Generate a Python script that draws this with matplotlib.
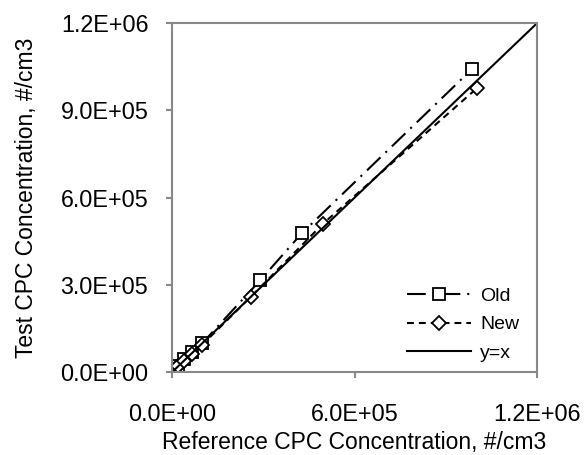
import matplotlib
matplotlib.use("Agg")
import matplotlib.pyplot as plt
from matplotlib.ticker import FormatStrFormatter

plt.rcParams['font.family'] = ['Liberation Sans', 'DejaVu Sans']

# Old instrument
ref_old = [1.0e4, 2.0e4, 4.0e4, 6.5e4, 1.0e5, 2.9e5, 4.27e5, 9.86e5]
test_old = [1.0e4, 2.2e4, 4.5e4, 6.8e4, 1.0e5, 3.16e5, 4.78e5, 1.042e6]

# New instrument
ref_new = [1.0e4, 2.0e4, 4.0e4, 6.5e4, 1.0e5, 2.6e5, 4.96e5, 1.003e6]
test_new = [1.0e4, 2.0e4, 4.0e4, 6.3e4, 9.5e4, 2.6e5, 5.1e5, 9.77e5]

one_to_one = [0, 1.2e6]
ticks_x = [0, 6.0e5, 1.2e6]
ticks_y = [0, 3.0e5, 6.0e5, 9.0e5, 1.2e6]

fig = plt.figure(figsize=(5.85, 4.55), dpi=100)
ax = fig.add_axes([0.294, 0.182, 0.624, 0.767])

ax.plot(ref_old, test_old, color='black', lw=1.5, dashes=[9, 3.3, 1, 3.3],
        marker='s', ms=9, mfc='white', mec='black', mew=1.3, label='Old')
ax.plot(ref_new, test_new, color='black', lw=1.5, dashes=[3.3, 2.4],
        marker='D', ms=7.5, mfc='white', mec='black', mew=1.3, label='New')
ax.plot(one_to_one, one_to_one, color='black', lw=1.5, label='y=x')

ax.set_xlim(0, 1.2e6)
ax.set_ylim(0, 1.2e6)
ax.set_xticks(ticks_x)
ax.set_yticks(ticks_y)
ax.xaxis.set_major_formatter(FormatStrFormatter('%.1E'))
ax.yaxis.set_major_formatter(FormatStrFormatter('%.1E'))

for s in ax.spines.values():
    s.set_color('#888888')
    s.set_linewidth(1.5)
ax.tick_params(direction='out', length=4, width=1.5, color='#888888',
               labelsize=16.8)
ax.tick_params(axis='y', pad=13)
ax.tick_params(axis='x', pad=18)

ax.set_xlabel('Reference CPC Concentration, #/cm3', fontsize=16.5, labelpad=4)
ax.set_ylabel('Test CPC Concentration, #/cm3', fontsize=16.5, labelpad=16)

ax.legend(loc='lower right', frameon=False, fontsize=14, handlelength=3.3,
          handletextpad=0.5, bbox_to_anchor=(1.0, -0.02), labelspacing=0.55)

fig.savefig('out.png', dpi=100)
